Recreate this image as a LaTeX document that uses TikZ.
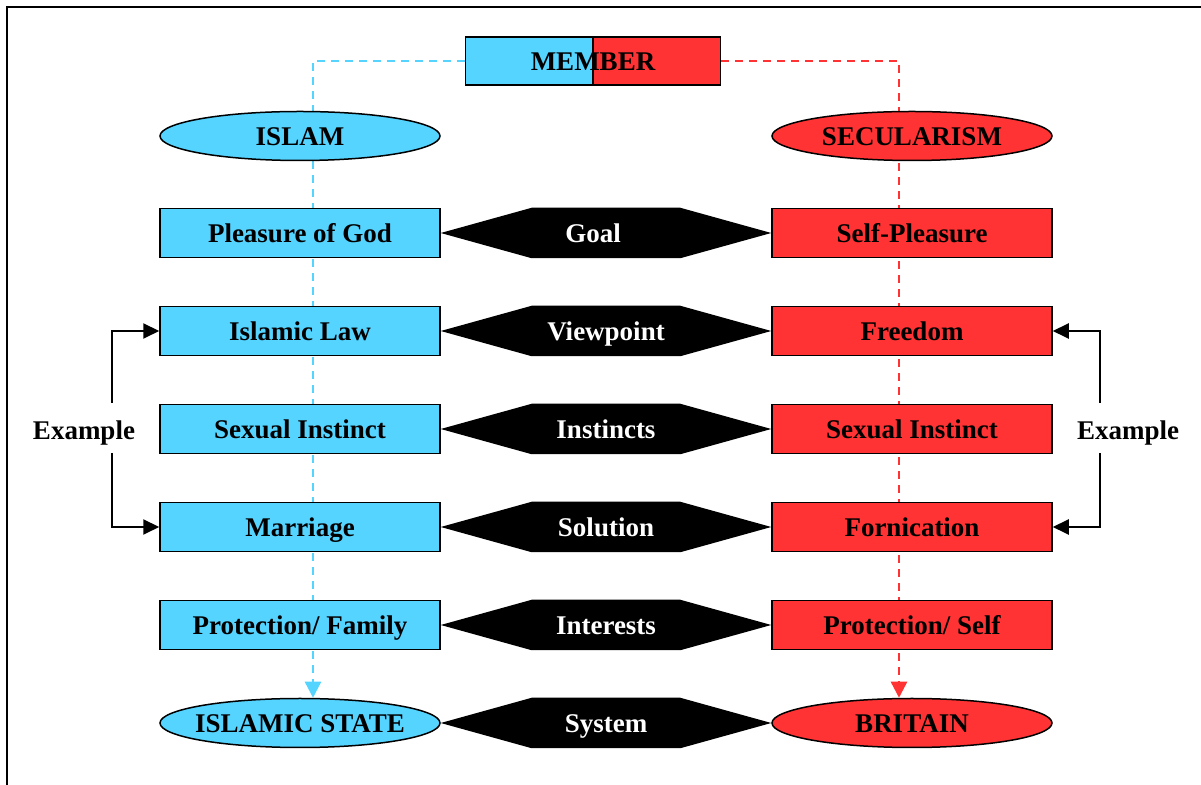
\documentclass[tikz,border=0pt]{standalone}
\usepackage{fontspec}
\setmainfont{Liberation Serif}
\usetikzlibrary{shapes.geometric, arrows.meta, calc, backgrounds}
\definecolor{islblue}{RGB}{85,212,255}
\definecolor{secred}{RGB}{255,51,51}
\tikzset{
    every node/.style={font=\fontsize{13.5}{16}\selectfont\bfseries, text height=11.4pt, text depth=1.5pt},
    islbox/.style={draw, fill=islblue, line width=0.75pt, minimum width=140pt, minimum height=24.5pt, inner sep=0pt},
    secbox/.style={islbox, fill=secred},
    islell/.style={islbox, ellipse, inner xsep=-6pt},
    secell/.style={secbox, ellipse, inner xsep=-6pt},
    bluedash/.style={islblue, dash pattern=on 4pt off 3pt, line width=1.2pt, -{Triangle[length=8pt,width=8pt]}},
    reddash/.style={bluedash, secred},
    exarrow/.style={line width=1pt, -{Triangle[length=8pt,width=7.5pt]}},
}
\begin{document}
\begin{tikzpicture}[x=0.5pt, y=-0.5pt]
    \useasboundingbox (0,0) rectangle (1201,785);
    % Frame, only top and left edges show
    \draw [line width=1pt] (1201,7) -- (7,7) -- (7,785);

    % Member box, half blue and half red
    \node [draw, line width=0.75pt, minimum width=127.5pt, minimum height=24pt, inner sep=0pt,
        path picture={
            \fill [islblue] (path picture bounding box.south west) rectangle (path picture bounding box.north);
            \fill [secred] (path picture bounding box.north) rectangle (path picture bounding box.south east);
            \draw [line width=0.75pt] (path picture bounding box.north) -- (path picture bounding box.south);
        }] (member) at (593,61) {MEMBER};

    % Two columns
    \node [islell] (islam) at (300,136) {ISLAM};
    \node [secell] (secular) at (912,136) {SECULARISM};
    \node [islbox] (god) at (300,233) {Pleasure of God};
    \node [secbox] (self) at (912,233) {Self-Pleasure};
    \node [islbox] (law) at (300,331) {Islamic Law};
    \node [secbox] (freedom) at (912,331) {Freedom};
    \node [islbox] (islinst) at (300,429) {Sexual Instinct};
    \node [secbox] (secinst) at (912,429) {Sexual Instinct};
    \node [islbox] (marriage) at (300,527) {Marriage};
    \node [secbox] (fornic) at (912,527) {Fornication};
    \node [islbox] (family) at (300,625) {Protection/ Family};
    \node [secbox] (selfprot) at (912,625) {Protection/ Self};
    \node [islell] (istate) at (300,723) {ISLAMIC STATE};
    \node [secell] (britain) at (912,723) {BRITAIN};

    % Black hexagons between the columns
    \foreach \lft/\rgt/\lbl/\dx in {god/self/Goal/-13, law/freedom/Viewpoint/0,
        islinst/secinst/Instincts/0, marriage/fornic/Solution/0,
        family/selfprot/Interests/0, istate/britain/System/0}
    {
        \fill [black] (\lft.east) -- ($(\lft.north -| \lft.east)+(91,0)$)
            -- ($(\rgt.north -| \rgt.west)+(-91,0)$) -- (\rgt.west)
            -- ($(\rgt.south -| \rgt.west)+(-91,0)$) -- ($(\lft.south -| \lft.east)+(91,0)$) -- cycle;
        \node [white] (\lft-hex) at ($(\lft.east)!0.5!(\rgt.west)+(\dx,0)$) {\lbl};
    }

    % Dashed lines behind the columns
    \begin{scope}[on background layer]
        \coordinate (bturn) at (313,61);
        \coordinate (rturn) at (899,61);
        \draw [bluedash] (member.west) -- (bturn) -- (bturn |- istate.north);
        \draw [reddash] (member.east) -- (rturn) -- (rturn |- britain.north);
    \end{scope}

    % Example arrows
    \node (exleft) at (84,430) {Example};
    \node (exright) at (1128,430) {Example};
    \coordinate (lup) at (112,403);
    \coordinate (ldown) at (112,453);
    \coordinate (rup) at (1100,403);
    \coordinate (rdown) at (1100,453);
    \draw [exarrow] (lup) |- (law.west);
    \draw [exarrow] (ldown) |- (marriage.west);
    \draw [exarrow] (rup) |- (freedom.east);
    \draw [exarrow] (rdown) |- (fornic.east);

\end{tikzpicture}
\end{document}
